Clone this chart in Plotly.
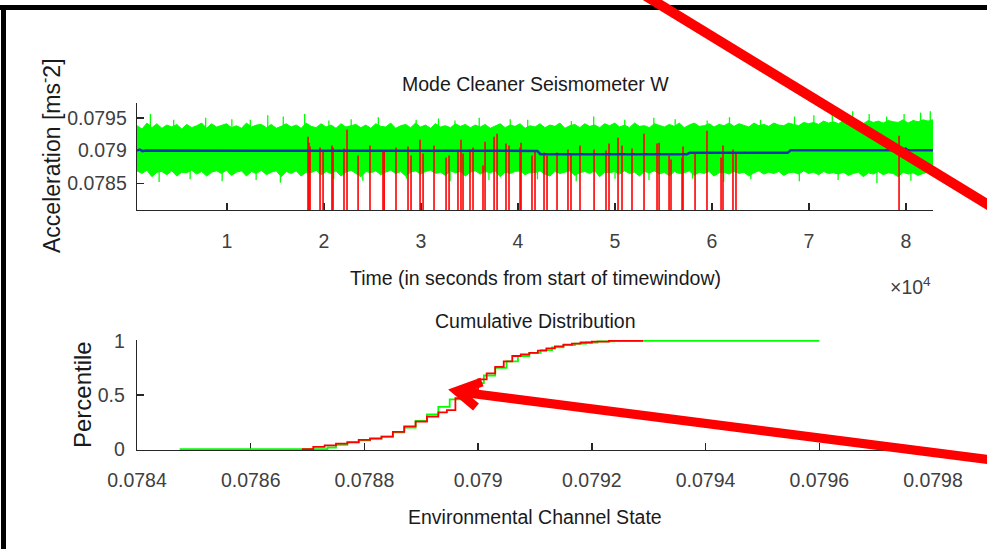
import numpy as np
import plotly.graph_objects as go

W, H = 987, 549

# ---------------------------------------------------------------------------
# Time-series panel: Mode Cleaner Seismometer W
# ---------------------------------------------------------------------------
T_START, T_END = 720.0, 82780.0     # seconds from start of time window
ACC_REF = 0.079                      # m s^-2
UNIT = 1e-6                          # envelope / spike offsets are in micro m s^-2
ACC_MIN, ACC_MAX = 0.078091, 0.079727

# upper and lower edge of the raw channel trace (offsets from ACC_REF)
green_upper = [
    380, 330, 420, 350, 410, 340, 390, 360, 400, 330, 400, 350, 380, 420, 340, 410, 360, 390, 410, 350,
    380, 340, 420, 360, 390, 400, 350, 400, 340, 370, 410, 360, 390, 340, 420, 370, 350, 410, 360, 390,
    340, 410, 360, 380, 400, 350, 390, 340, 410, 370, 360, 420, 340, 380, 400, 350, 420, 360, 390, 340,
    410, 360, 380, 350, 410, 370, 400, 350, 390, 360, 400, 340, 380, 410, 350, 390, 370, 410, 340, 380,
    360, 410, 350, 390, 370, 420, 340, 380, 400, 350, 410, 370, 390, 350, 410, 380, 420, 360, 390, 350,
    420, 370, 380, 350, 410, 390, 360, 400, 370, 420, 350, 390, 420, 370, 380, 410, 360, 400, 380, 420,
    370, 410, 390, 360, 420, 380, 400, 370, 420, 390, 380, 420, 400, 380, 430, 410, 430, 400, 450, 420,
    440, 410, 460, 430, 420, 450, 410, 460, 430, 450, 420, 460, 440, 430, 470, 420, 460, 440, 470, 450,
    470,
]
green_lower = [
    -310, -350, -300, -400, -330, -320, -370, -310, -390, -330, -340, -300, -360, -320, -390, -330, -310, -350, -300, -380,
    -330, -310, -390, -320, -350, -300, -370, -330, -310, -400, -320, -350, -310, -390, -330, -340, -300, -370, -320, -350,
    -310, -390, -330, -300, -350, -400, -320, -340, -310, -370, -330, -300, -350, -320, -390, -330, -310, -360, -320, -300,
    -350, -330, -380, -310, -340, -320, -390, -330, -310, -360, -320, -340, -310, -400, -330, -350, -320, -310, -370, -330,
    -340, -310, -360, -390, -320, -350, -330, -310, -380, -340, -320, -350, -310, -400, -330, -340, -320, -360, -310, -350,
    -330, -390, -320, -340, -310, -360, -330, -390, -320, -350, -340, -310, -380, -330, -350, -320, -390, -340, -330, -360,
    -320, -350, -330, -390, -340, -310, -360, -330, -350, -320, -380, -340, -330, -360, -310, -350, -330, -370, -320, -350,
    -340, -360, -330, -380, -350, -330, -400, -340, -360, -320, -370, -340, -350, -400, -330, -360, -340, -380, -350, -330,
    -360,
]

# isolated excursions of the raw trace beyond its usual band: time (s) and extreme (offset)
spike_up_times = [2100, 4500, 7800, 10500, 12400, 14200, 15800, 18000, 20500, 22800,
                  25600, 29500, 31800, 33500, 36000, 39200, 41000, 45500, 47800, 51000,
                  54000, 56200, 59500, 61800, 65000, 68500, 70500, 72400, 74500, 76200,
                  78000, 79800, 81500, 82500]
spike_up_vals = [560, 470, 500, 480, 470, 540, 520, 560, 460, 480,
                 510, 470, 490, 460, 500, 480, 470, 450, 520, 470,
                 500, 480, 460, 510, 470, 520, 540, 560, 600, 560,
                 520, 560, 580, 600]
spike_down_times = [3000, 6200, 9500, 13000, 15500, 21000, 24000, 28500, 33000, 37000,
                    42000, 46000, 50000, 53500, 58000, 61200, 64000, 69000, 73000, 77000,
                    80500]
spike_down_vals = [-480, -440, -470, -450, -490, -440, -460, -430, -470, -450,
                   -440, -470, -430, -450, -430, -480, -440, -470, -450, -500,
                   -460]

# glitch times (s) and the peak value reached at each glitch (offset from ACC_REF)
glitch_times = [
    18350, 18450, 18560, 19590, 19900, 20820, 20930, 22060, 22370, 23510,
    24740, 26080, 26200, 27420, 28660, 28970, 29900, 30210, 31340, 32580,
    32890, 33810, 34120, 34330, 35050, 35360, 36390, 36600, 37530, 37840,
    38760, 39070, 40210, 40310, 41440, 41750, 42680, 42990, 44020, 45150,
    45460, 46390, 47840, 49070, 49380, 50310, 50720, 51750, 52990, 54330,
    54540, 55570, 55770, 56910, 57010, 58250, 59480, 60930, 61130, 62160,
    62470, 79280,
]
glitch_tops = [
    212, 120, 61, 45, 0, 76, 45, 30, 318, -76,
    76, -15, 0, 45, 61, -76, 167, -45, 76, -106,
    -76, 0, 167, -45, 15, 45, -227, 136, 212, 258,
    106, 76, 45, 121, -76, 0, -30, -76, -30, 15,
    -45, 76, 15, 0, 106, 197, 76, 30, 258, 106,
    121, -76, -136, -106, 61, -30, 303, -106, 76, 15,
    -30, 227,
]
GLITCH_FLOOR = 0.0780

# running median of the channel
median_times = [720, 1000, 1300, 1600, 42000, 42300, 57400, 57700, 67800, 68100,
                79200, 79450, 79700, 79950, 80200, 80450, 82780]
median_vals = [0, 15, -10, 0, -5, -55, -55, -35, -35, 5,
               5, 30, 5, 30, 5, 5, 5]

# ---------------------------------------------------------------------------
# Cumulative distribution panel
# ---------------------------------------------------------------------------
cdf_all_x = [0.078475, 0.078735, 0.078750, 0.078770, 0.078790, 0.078810, 0.078830,
             0.078850, 0.078870, 0.078890, 0.078910, 0.078930, 0.078950, 0.078970,
             0.078990, 0.079010, 0.079030, 0.079050, 0.079070, 0.079090, 0.079110,
             0.079130, 0.079150, 0.079170, 0.079190, 0.079210, 0.079240, 0.079600]
cdf_all_p = [0.000, 0.015, 0.040, 0.060, 0.080, 0.095, 0.115,
             0.155, 0.200, 0.260, 0.320, 0.390, 0.460, 0.530,
             0.610, 0.680, 0.750, 0.810, 0.860, 0.890, 0.915,
             0.940, 0.960, 0.975, 0.985, 0.995, 1.000, 1.000]

cdf_glitch_x = [0.078690, 0.078710, 0.078730, 0.078750, 0.078770, 0.078790, 0.078810,
                0.078830, 0.078850, 0.078870, 0.078890, 0.078910, 0.078930, 0.078945,
                0.078960, 0.078980, 0.079000, 0.079015, 0.079030, 0.079045, 0.079060,
                0.079075, 0.079090, 0.079105, 0.079120, 0.079135, 0.079150, 0.079165,
                0.079180, 0.079200, 0.079230, 0.079290]
cdf_glitch_p = [0.000, 0.020, 0.035, 0.050, 0.065, 0.085, 0.100,
                0.115, 0.160, 0.210, 0.255, 0.300, 0.340, 0.360,
                0.470, 0.550, 0.645, 0.700, 0.760, 0.810, 0.860,
                0.875, 0.890, 0.910, 0.930, 0.950, 0.965, 0.975,
                0.985, 0.993, 1.000, 1.000]

time_ticks = [10000, 20000, 30000, 40000, 50000, 60000, 70000, 80000]
time_ticktext = ["1", "2", "3", "4", "5", "6", "7", "8"]
acc_ticks = [0.0785, 0.079, 0.0795]
acc_ticktext = ["0.0785", "0.079", "0.0795"]
state_ticks = [0.0784, 0.0786, 0.0788, 0.079, 0.0792, 0.0794, 0.0796, 0.0798]
state_ticktext = ["0.0784", "0.0786", "0.0788", "0.079", "0.0792", "0.0794", "0.0796", "0.0798"]
pct_ticks = [0, 0.5, 1]
pct_ticktext = ["0", "0.5", "1"]

GREEN = "#00ff00"
RED = "#ff0000"
BLUE = "#1a33b0"
AXIS_COL = "#262626"
TICK_COL = "#404040"
FONT = "Liberation Sans, Arial, sans-serif"

fig = go.Figure()


def vlines(times, lows, highs):
    xs, ys = [], []
    for t, a, b in zip(times, lows, highs):
        xs += [t, t, None]
        ys += [a, b, None]
    return xs, ys


# raw channel: band between envelopes plus isolated excursions
t_env = np.linspace(T_START, T_END, len(green_upper))
up = ACC_REF + np.array(green_upper) * UNIT
lo = ACC_REF + np.array(green_lower) * UNIT
fig.add_trace(go.Scatter(x=t_env, y=up, mode="lines", line=dict(color=GREEN, width=1),
                         xaxis="x", yaxis="y", hoverinfo="skip"))
fig.add_trace(go.Scatter(x=t_env, y=lo, mode="lines", line=dict(color=GREEN, width=1),
                         fill="tonexty", fillcolor=GREEN, xaxis="x", yaxis="y", hoverinfo="skip"))
sx, sy = vlines(spike_up_times + spike_down_times,
                [ACC_REF] * (len(spike_up_times) + len(spike_down_times)),
                [ACC_REF + v * UNIT for v in spike_up_vals + spike_down_vals])
fig.add_trace(go.Scatter(x=sx, y=sy, mode="lines", line=dict(color=GREEN, width=1.3),
                         xaxis="x", yaxis="y", hoverinfo="skip"))

# glitches
gx, gy = vlines(glitch_times, [GLITCH_FLOOR] * len(glitch_times),
                [ACC_REF + v * UNIT for v in glitch_tops])
fig.add_trace(go.Scatter(x=gx, y=gy, mode="lines", line=dict(color=RED, width=1.6),
                         xaxis="x", yaxis="y", hoverinfo="skip"))

fig.add_trace(go.Scatter(x=median_times, y=[ACC_REF + v * UNIT for v in median_vals],
                         mode="lines", line=dict(color=BLUE, width=2.5),
                         xaxis="x", yaxis="y", hoverinfo="skip"))

fig.add_trace(go.Scatter(x=cdf_all_x, y=cdf_all_p, mode="lines", line=dict(color=GREEN, width=1.8, shape="hv"),
                         xaxis="x2", yaxis="y2", hoverinfo="skip"))
fig.add_trace(go.Scatter(x=cdf_glitch_x, y=cdf_glitch_p, mode="lines", line=dict(color=RED, width=1.8, shape="hv"),
                         xaxis="x2", yaxis="y2", hoverinfo="skip"))


def pxx(x):
    return x / W


def pxy(y):
    return 1 - y / H


axis_common = dict(showgrid=False, zeroline=False, showline=True, linecolor=AXIS_COL, linewidth=1.3,
                   ticks="inside", ticklen=7, tickwidth=1.3, tickcolor=AXIS_COL, mirror=False,
                   layer="below traces", tickfont=dict(family=FONT, size=19.5, color=TICK_COL),
                   fixedrange=True, automargin=False)

fig.update_layout(
    width=W, height=H, autosize=False,
    margin=dict(l=0, r=0, t=0, b=0, pad=0, autoexpand=False),
    paper_bgcolor="white", plot_bgcolor="white",
    showlegend=False,
    xaxis=dict(domain=[pxx(137), pxx(933)], range=[T_START, T_END], anchor="y",
               tickmode="array", tickvals=time_ticks, ticktext=time_ticktext,
               ticklabelstandoff=13, **axis_common),
    yaxis=dict(domain=[pxy(210), pxy(103)], range=[ACC_MIN, ACC_MAX], anchor="x",
               tickmode="array", tickvals=acc_ticks, ticktext=acc_ticktext,
               ticklabelstandoff=5, **axis_common),
    xaxis2=dict(domain=[pxx(137), pxx(933)], range=[0.0784, 0.0798], anchor="y2",
                tickmode="array", tickvals=state_ticks, ticktext=state_ticktext,
                ticklabelstandoff=12, **axis_common),
    yaxis2=dict(domain=[pxy(450), pxy(340)], range=[-0.008, 1.008], anchor="x2",
                tickmode="array", tickvals=pct_ticks, ticktext=pct_ticktext,
                ticklabelstandoff=7, **axis_common),
)

title_font = dict(family=FONT, size=19.5, color="#1a1a1a")


def text_at(x, y, s, font, angle=0, xanchor="center"):
    fig.add_annotation(x=pxx(x), y=pxy(y), xref="paper", yref="paper", text=s, showarrow=False,
                       font=font, textangle=angle, xanchor=xanchor, yanchor="middle")


text_at(535, 84, "Mode Cleaner Seismometer W", title_font)
text_at(535, 278, "Time (in seconds from start of timewindow)", title_font)
text_at(933, 286, "\u00d710<sup>4</sup>", dict(family=FONT, size=19.5, color=TICK_COL), xanchor="right")
text_at(535, 321, "Cumulative Distribution", title_font)
text_at(535, 517, "Environmental Channel State", title_font)
text_at(50, 156, "Acceleration [ms<sup>-</sup>2]", dict(family=FONT, size=23, color="#1a1a1a"), angle=-90)
text_at(82, 395, "Percentile", dict(family=FONT, size=24, color="#1a1a1a"), angle=-90)

# black frame (top and left edges)
fig.add_shape(type="line", xref="paper", yref="paper", x0=pxx(0), y0=pxy(7.5), x1=pxx(W), y1=pxy(7.5),
              line=dict(color="black", width=5))
fig.add_shape(type="line", xref="paper", yref="paper", x0=pxx(3.5), y0=pxy(5), x1=pxx(3.5), y1=pxy(H),
              line=dict(color="black", width=5))

# red pointer lines
fig.add_shape(type="line", xref="paper", yref="paper", x0=pxx(636), y0=pxy(-10), x1=pxx(1000), y1=pxy(212),
              line=dict(color=RED, width=10))
fig.add_shape(type="line", xref="paper", yref="paper", x0=pxx(460), y0=pxy(392), x1=pxx(1000), y1=pxy(461),
              line=dict(color=RED, width=9))
head = "M {} {} L {} {} L {} {}".format(pxx(482), pxy(382), pxx(457), pxy(391), pxx(476), pxy(407))
fig.add_shape(type="path", xref="paper", yref="paper", path=head, line=dict(color=RED, width=9))

fig.write_html("out.html", config={"displayModeBar": False, "staticPlot": True})
